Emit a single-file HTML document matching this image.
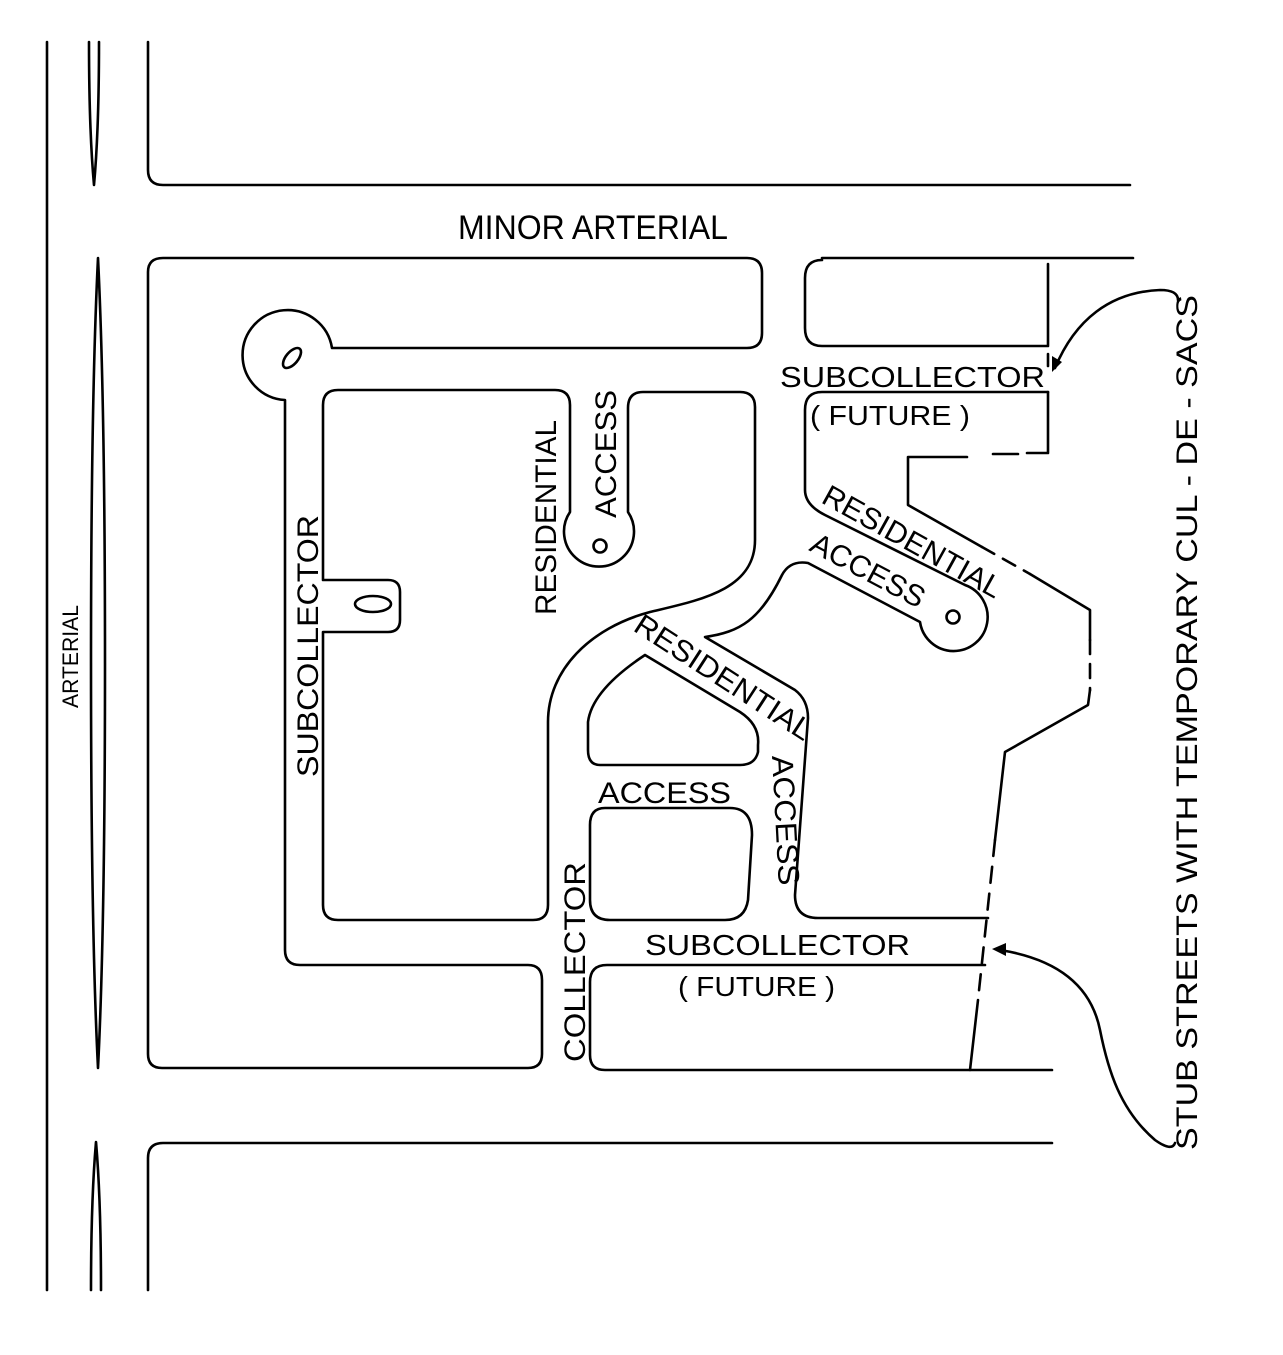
<!DOCTYPE html>
<html><head><meta charset="utf-8"><style>
html,body{margin:0;padding:0;background:#fff;}
svg{display:block;}
text{font-family:"Liberation Sans",sans-serif;fill:#000;}
</style></head><body>
<svg width="1283" height="1355" viewBox="0 0 1283 1355" xmlns="http://www.w3.org/2000/svg">
<g fill="none" stroke="#000" stroke-width="2.6" stroke-linejoin="round" stroke-linecap="round">
<line x1="47" y1="42" x2="47" y2="1290"/>
<path d="M89,42 Q89,130 94,185 Q99,130 99,42"/>
<path d="M98,258 Q91,400 91,663 Q91,930 98,1068 Q105,930 105,663 Q105,400 98,258 Z"/>
<path d="M91,1290 Q91,1200 96,1142 Q101,1200 101,1290"/>
<path d="M148,42 V170 Q148,185 163,185 H1130"/>
<path d="M1052,1143 H163 Q148,1143 148,1158 V1290"/>
<path d="M163,258 H747 Q762,258 762,273 V333 Q762,348 747,348 H332 A45,45 0 1 0 285,400 V950 Q285,965 300,965 H528 Q542,965 542,980 V1054 Q542,1068 528,1068 H162 Q148,1068 148,1054 V272 Q148,258 163,258 Z"/>
<ellipse cx="292" cy="358" rx="6" ry="12" transform="rotate(40 292 358)"/>
<path d="M338,390 H555 Q570,390 570,405 V512 A35,35 0 1 0 628,512 V408 Q628,392 643,392 H740 Q755,392 755,407 V540 C755,590 700,600 650,612 C590,628 548,670 548,722 V905 Q548,920 533,920 H338 Q323,920 323,905 V632 H388 Q400,632 400,620 V592 Q400,580 388,580 H323 V405 Q323,390 338,390 Z"/>
<circle cx="600" cy="546" r="6.5"/>
<ellipse cx="373" cy="604" rx="18" ry="8"/>
<line x1="822" y1="258" x2="1133" y2="258"/>
<path d="M1048,264 V346 M1048,346 H822 Q805,346 805,328 V278 Q805,260 822,260"/>
<path d="M1048,354 V366"/>
<path d="M1048,392 H822 Q805,392 805,410 V490 Q805,505 825,515 L965,585 A34,34 0 1 1 920,622 L808,563 Q790,560 782,575 C760,620 740,632 705,637 L795,690 Q808,700 808,718 L795,895 Q795,918 818,918 H988"/>
<circle cx="953" cy="617" r="6.5"/>
<path d="M645,655 L740,712 Q760,725 758,745 V752 Q755,765 740,765 H600 Q588,765 588,750 V722 Q592,690 645,655 Z"/>
<path d="M605,808 H730 Q752,808 752,835 L748,900 Q745,920 725,920 H610 Q590,920 590,900 V825 Q590,808 605,808 Z"/>
<path d="M1052,1070 H605 Q590,1070 590,1055 V982 Q590,965 607,965 H985"/>
<path d="M1048,392 V453 H1027"/>
<path d="M1018,454 H993"/>
<path d="M967,457 H908 V505 L982,547"/>
<path d="M982,547 L1030,574" stroke-dasharray="14,10"/>
<path d="M1030,574 L1090,610 V640"/>
<path d="M1090,640 V690" stroke-dasharray="14,10"/>
<path d="M1090,690 L1088,705 L1005,752 L995,840"/>
<path d="M995,840 L978,1000" stroke-dasharray="16,11"/>
<path d="M978,1000 L970,1070"/>
<path d="M1178,300 Q1178,290 1160,290 C1110,292 1075,320 1055,368"/>
<path d="M1175,1143 Q1172,1152 1155,1140 C1120,1110 1108,1070 1100,1030 C1090,980 1050,958 1000,950"/>
</g>
<path d="M1052,372 L1052,356 L1062,362 Z" fill="#000"/>
<path d="M992,949 L1006,943 L1006,956 Z" fill="#000"/>
<g font-size="30">
<text x="458" y="239" textLength="270" lengthAdjust="spacingAndGlyphs" font-size="34">MINOR ARTERIAL</text>
<text transform="translate(78,708) rotate(-90)" font-size="22" textLength="103" lengthAdjust="spacingAndGlyphs">ARTERIAL</text>
<text transform="translate(318,777) rotate(-90)" textLength="262" lengthAdjust="spacingAndGlyphs">SUBCOLLECTOR</text>
<text transform="translate(556,615) rotate(-90)" textLength="195" lengthAdjust="spacingAndGlyphs">RESIDENTIAL</text>
<text transform="translate(616,518) rotate(-90)" textLength="128" lengthAdjust="spacingAndGlyphs">ACCESS</text>
<text x="780" y="387" textLength="265" lengthAdjust="spacingAndGlyphs" font-size="29">SUBCOLLECTOR</text>
<text x="810" y="425" textLength="160" lengthAdjust="spacingAndGlyphs" font-size="28">( FUTURE )</text>
<text transform="translate(820,502) rotate(29)" textLength="200" lengthAdjust="spacingAndGlyphs">RESIDENTIAL</text>
<text transform="translate(808,550) rotate(28)" textLength="125" lengthAdjust="spacingAndGlyphs">ACCESS</text>
<text transform="translate(632,630) rotate(33)" textLength="205" lengthAdjust="spacingAndGlyphs">RESIDENTIAL</text>
<text x="598" y="803" textLength="133" lengthAdjust="spacingAndGlyphs">ACCESS</text>
<text transform="translate(772,756) rotate(87)" textLength="130" lengthAdjust="spacingAndGlyphs">ACCESS</text>
<text transform="translate(585,1062) rotate(-90)" textLength="200" lengthAdjust="spacingAndGlyphs">COLLECTOR</text>
<text x="645" y="955" textLength="265" lengthAdjust="spacingAndGlyphs" font-size="29">SUBCOLLECTOR</text>
<text x="678" y="996" textLength="157" lengthAdjust="spacingAndGlyphs" font-size="28">( FUTURE )</text>
<text transform="translate(1197,1150) rotate(-90)" textLength="855" lengthAdjust="spacingAndGlyphs">STUB STREETS WITH TEMPORARY CUL - DE - SACS</text>
</g>
</svg>
</body></html>
